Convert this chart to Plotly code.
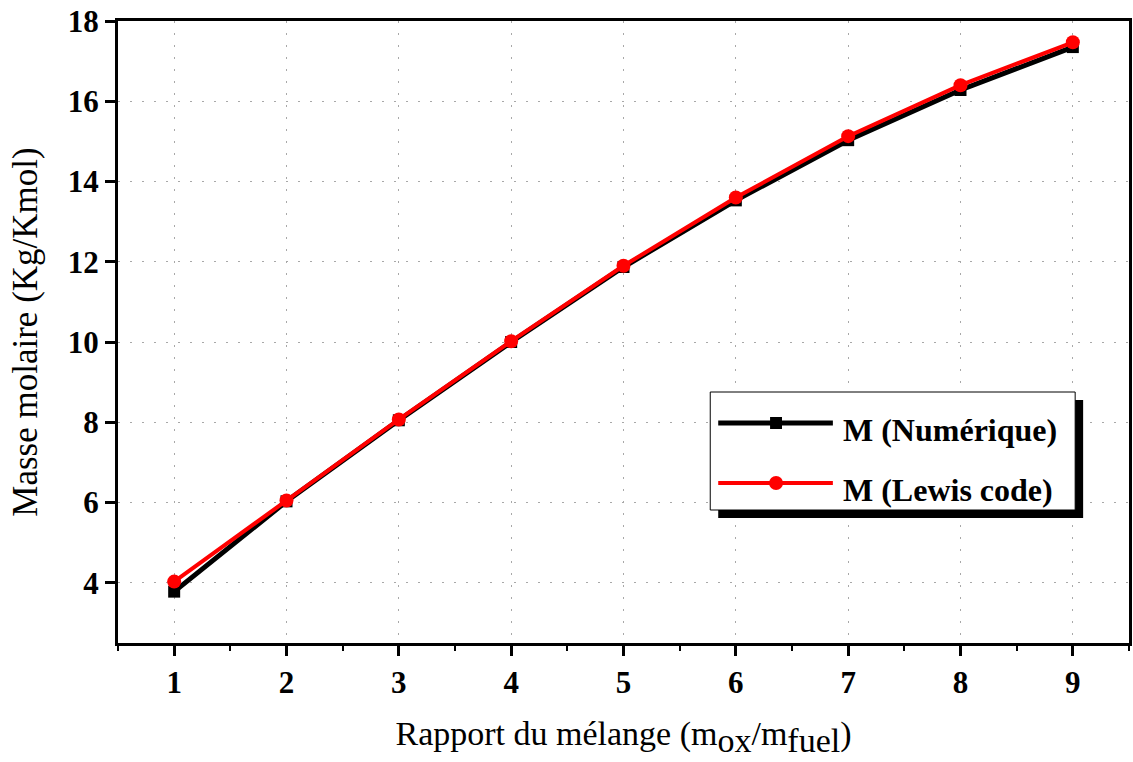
import plotly.graph_objects as go

x_ratio = [1, 2, 3, 4, 5, 6, 7, 8, 9]
m_numerique = [3.78, 6.03, 8.05, 10.0, 11.87, 13.53, 15.03, 16.28, 17.35]
m_lewis = [4.03, 6.05, 8.07, 10.02, 11.9, 13.6, 15.13, 16.4, 17.47]
x_ticks = [1, 2, 3, 4, 5, 6, 7, 8, 9]
y_ticks = [4, 6, 8, 10, 12, 14, 16, 18]
names = ["M (Numérique)", "M (Lewis code)"]

FONT = "Liberation Serif"

fig = go.Figure()
fig.add_trace(go.Scatter(x=x_ratio, y=m_numerique, mode="lines+markers", name=names[0],
                         line=dict(color="black", width=5),
                         marker=dict(symbol="square", size=12, color="black"),
                         showlegend=False))
fig.add_trace(go.Scatter(x=x_ratio, y=m_lewis, mode="lines+markers", name=names[1],
                         line=dict(color="#ff0000", width=4),
                         marker=dict(symbol="circle", size=14, color="#ff0000"),
                         showlegend=False))

L, R, T, B = 118, 1132, 21, 643
def px(v):
    return (v - L) / (R - L)
def py(v):
    return (B - v) / (B - T)

shapes = []
# legend shadow and box
shapes.append(dict(type="rect", xref="paper", yref="paper", x0=px(720), x1=px(1086), y0=py(518), y1=py(400),
                   fillcolor="black", line=dict(width=0), layer="above"))
shapes.append(dict(type="rect", xref="paper", yref="paper", x0=px(712), x1=px(1078), y0=py(510), y1=py(392),
                   fillcolor="white", line=dict(color="black", width=1), layer="above"))
# legend samples
shapes.append(dict(type="line", xref="paper", yref="paper", x0=px(720), x1=px(835), y0=py(423), y1=py(423),
                   line=dict(color="black", width=5), layer="above"))
shapes.append(dict(type="rect", xref="paper", yref="paper", x0=px(772), x1=px(784), y0=py(429), y1=py(417),
                   fillcolor="black", line=dict(width=0), layer="above"))
shapes.append(dict(type="line", xref="paper", yref="paper", x0=px(720), x1=px(835), y0=py(483), y1=py(483),
                   line=dict(color="#ff0000", width=4), layer="above"))
shapes.append(dict(type="circle", xref="paper", yref="paper", x0=px(771), x1=px(785), y0=py(490), y1=py(476),
                   fillcolor="#ff0000", line=dict(width=0), layer="above"))

annotations = [
    dict(text="<b>" + names[0] + "</b>", xref="paper", yref="paper", x=px(843), y=py(430),
         xanchor="left", yanchor="middle", showarrow=False, font=dict(family=FONT, size=32, color="black")),
    dict(text="<b>" + names[1] + "</b>", xref="paper", yref="paper", x=px(843), y=py(490),
         xanchor="left", yanchor="middle", showarrow=False, font=dict(family=FONT, size=32, color="black")),
]

axis_common = dict(showline=True, linecolor="black", linewidth=3, mirror=True,
                   ticks="outside", ticklen=10, tickwidth=3, tickcolor="black",
                   showgrid=True, gridcolor="#a8a8a8", gridwidth=1, griddash="2px,10px",
                   zeroline=False,
                   tickfont=dict(family=FONT, size=31, color="black", weight="bold"))

sub = '<sub><span style="font-size:34px">{}</span></sub>'
x_title = "Rapport du mélange (m" + sub.format("ox") + "/m" + sub.format("fuel") + ")"

fig.update_layout(
    width=1133, height=762,
    margin=dict(l=L, r=1133 - R, t=T, b=762 - B),
    paper_bgcolor="white", plot_bgcolor="white",
    font=dict(family=FONT, color="black"),
    shapes=shapes, annotations=annotations,
    xaxis=dict(range=[0.5, 9.5], tickvals=x_ticks, ticktext=[str(v) for v in x_ticks],
               minor=dict(ticks="outside", ticklen=5, tickwidth=2, tickcolor="black", dtick=0.5, tick0=0.5, showgrid=False),
               title=dict(text=x_title,
                          font=dict(family=FONT, size=34, color="black"), standoff=22),
               **axis_common),
    yaxis=dict(range=[2.5, 18], tickvals=y_ticks, ticktext=[str(v) for v in y_ticks],
               title=dict(text="Masse molaire (Kg/Kmol)",
                          font=dict(family=FONT, size=35, color="black"), standoff=20),
               **axis_common),
)

fig.write_html("out.html")
